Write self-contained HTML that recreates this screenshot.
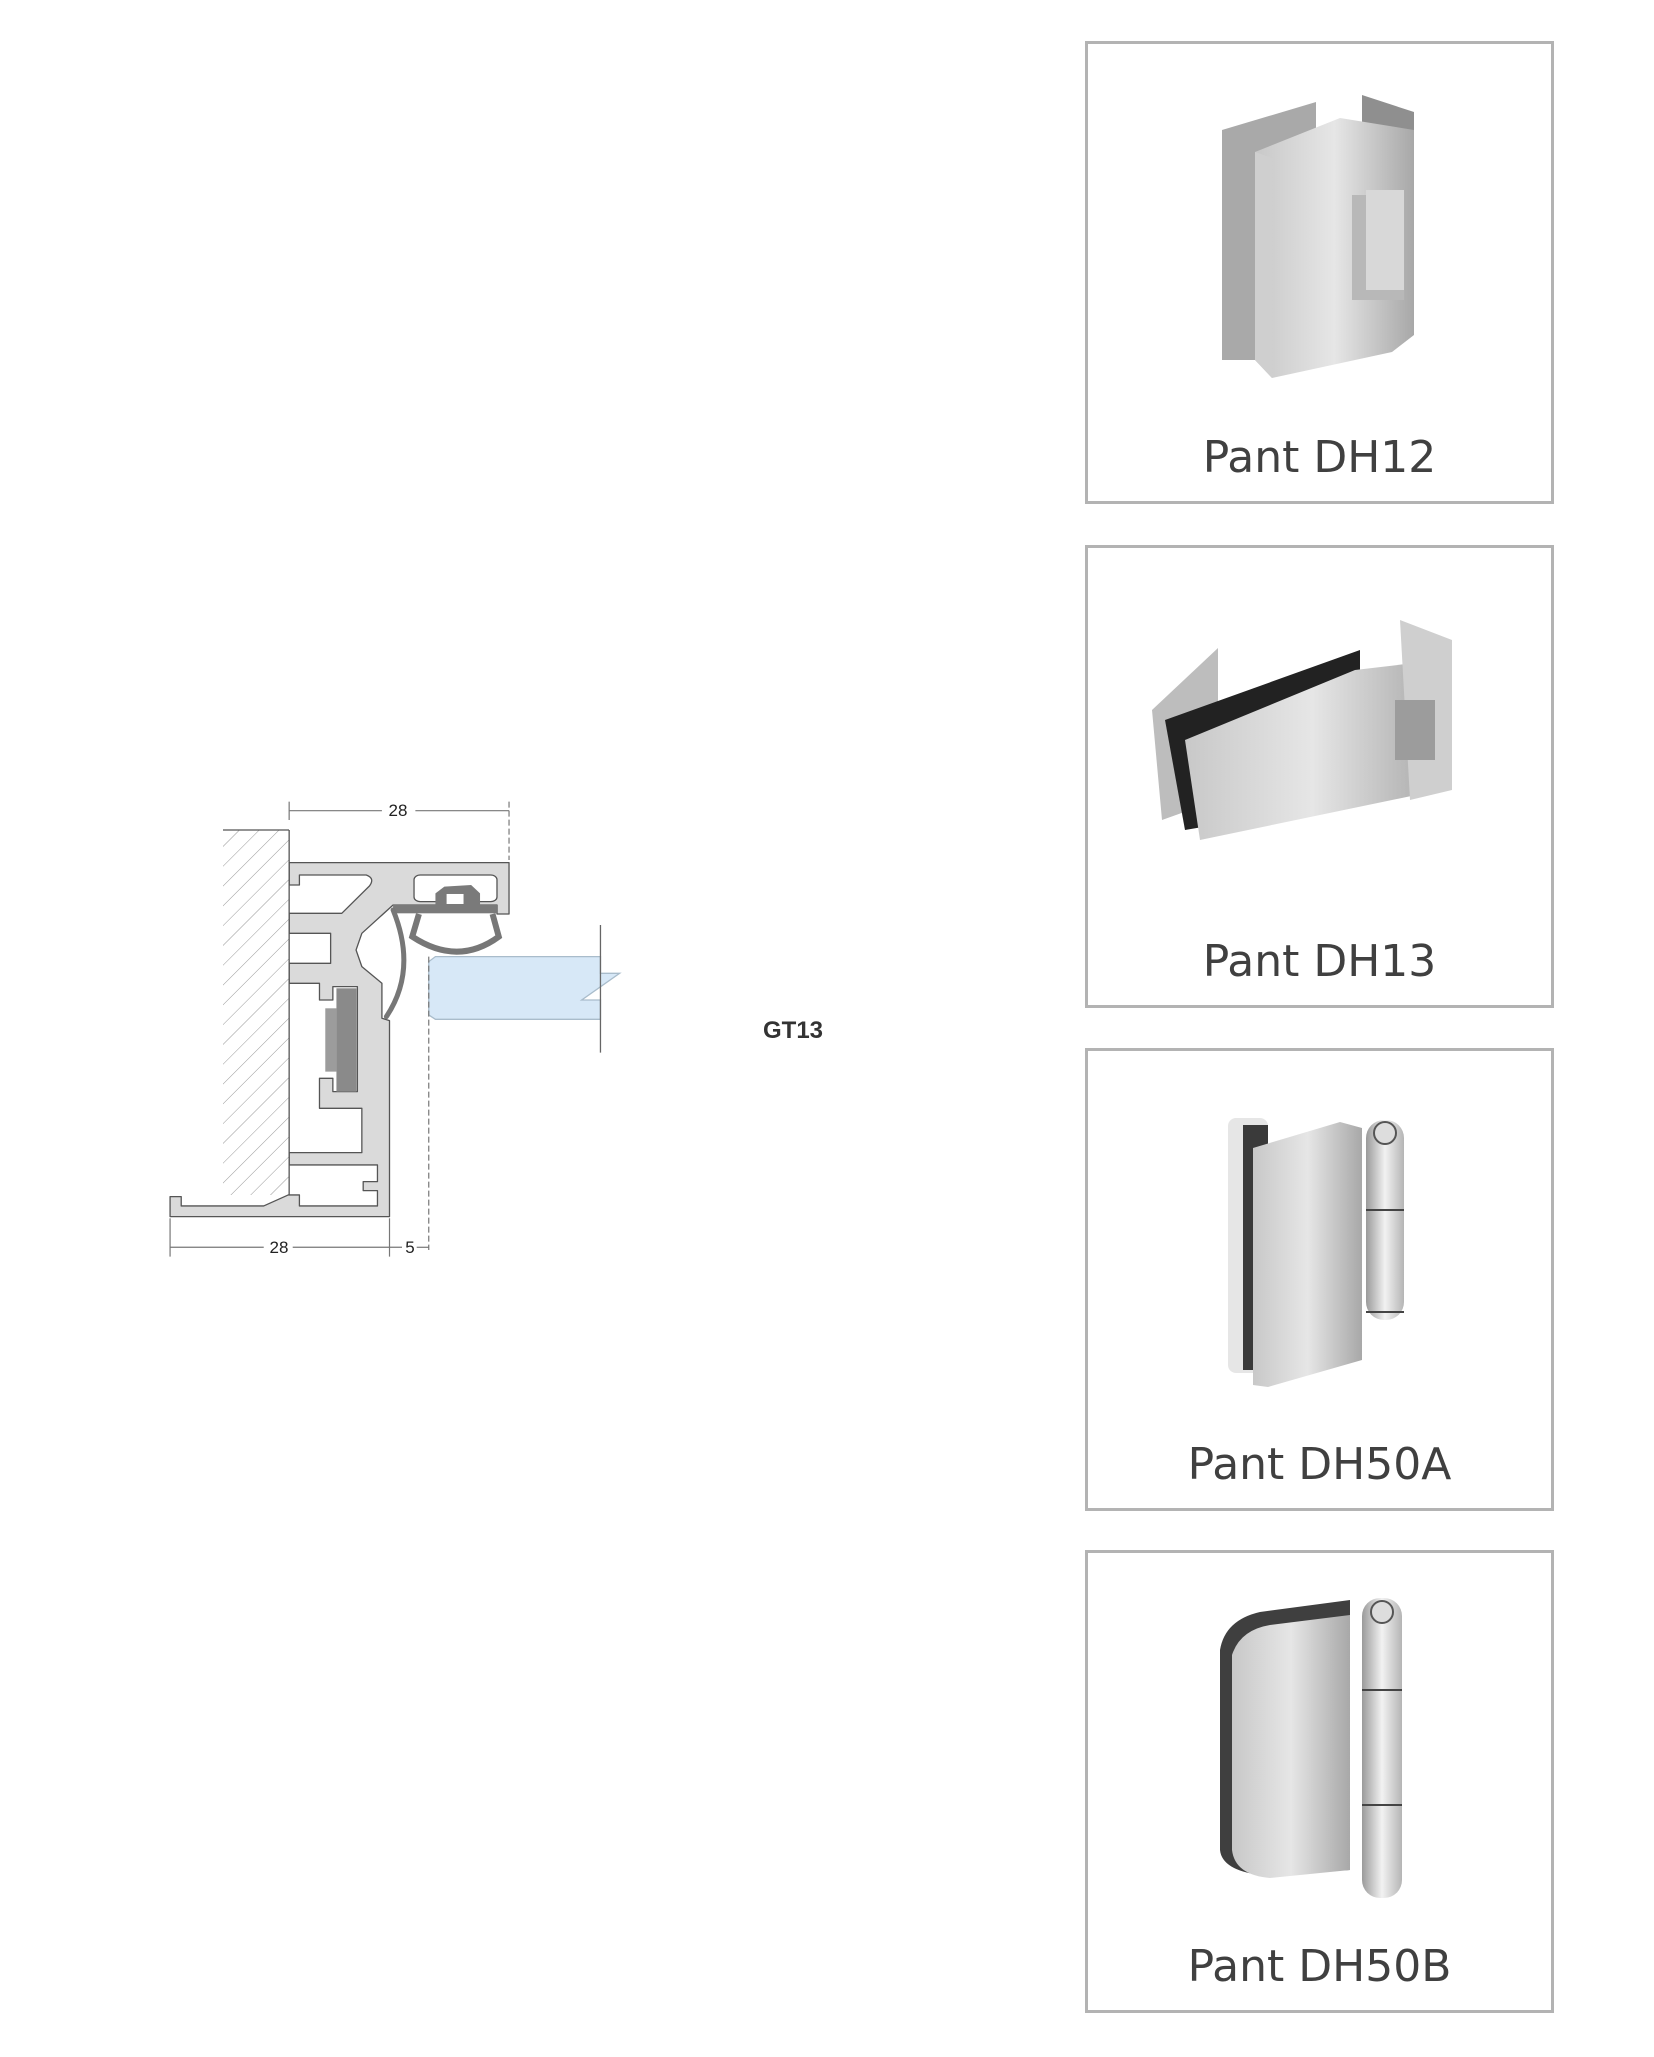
<!DOCTYPE html>
<html><head><meta charset="utf-8"><style>
html,body{margin:0;padding:0;background:#fff;}
body{width:1654px;height:2057px;position:relative;overflow:hidden;font-family:"Liberation Sans",sans-serif;}
.box{position:absolute;left:1085px;width:463px;height:457px;border:3px solid #b3b3b3;box-sizing:content-box;}
.lbl{position:absolute;left:0;width:100%;text-align:center;font-family:"DejaVu Sans","Liberation Sans",sans-serif;font-size:44px;color:#404040;}
svg{position:absolute;left:0;top:0;}
</style></head><body>
<div class="box" style="top:41px;"><div class="lbl" style="top:388px;">Pant DH12</div></div>
<div class="box" style="top:545px;"><div class="lbl" style="top:388px;">Pant DH13</div></div>
<div class="box" style="top:1048px;"><div class="lbl" style="top:388px;">Pant DH50A</div></div>
<div class="box" style="top:1550px;"><div class="lbl" style="top:388px;">Pant DH50B</div></div>

<svg width="1654" height="2057" viewBox="0 0 1654 2057">
<defs>
<pattern id="h" width="14" height="14" patternUnits="userSpaceOnUse" patternTransform="rotate(45)">
<line x1="0" y1="0" x2="0" y2="14" stroke="#999" stroke-width="1"/></pattern>
<linearGradient id="m" x1="0" x2="1"><stop offset="0" stop-color="#c8c8c8"/><stop offset="0.5" stop-color="#e6e6e6"/><stop offset="1" stop-color="#a8a8a8"/></linearGradient>
<linearGradient id="m2" x1="0" x2="1"><stop offset="0" stop-color="#9a9a9a"/><stop offset="0.5" stop-color="#f2f2f2"/><stop offset="1" stop-color="#b5b5b5"/></linearGradient>
</defs>

<rect x="223" y="830" width="66" height="365" fill="url(#h)"/>
<line x1="223" y1="830" x2="289" y2="830" stroke="#555" stroke-width="1.3"/>

<g transform="translate(150,770) scale(0.446,0.3333)">
<path d="M312,278 L805,278 L805,432 L778,432 L778,405 L545,405 L475,490 L462,540 L475,590 L520,640 L520,745 L537,752 L537,1340 L45,1340 L45,1280 L70,1280 L70,1308 L255,1308 L310,1275 L312,1275 Z" fill="#dadada" stroke="#555" stroke-width="1.3" vector-effect="non-scaling-stroke" stroke-linejoin="round"/>
<g fill="#fff" stroke="#555" stroke-width="1.3" stroke-linejoin="round">
<path vector-effect="non-scaling-stroke" d="M312,345 L335,345 L335,315 L485,315 Q505,325 492,348 L430,430 L312,430"/>
<path vector-effect="non-scaling-stroke" d="M312,490 L405,490 L405,580 L312,580"/>
<path vector-effect="non-scaling-stroke" d="M312,640 L380,640 L380,690 L410,690 L410,650 L465,650 L465,965 L410,965 L410,925 L380,925 L380,1015 L475,1015 L475,1148 L312,1148"/>
<path vector-effect="non-scaling-stroke" d="M312,1185 L510,1185 L510,1235 L478,1235 L478,1262 L510,1262 L510,1308 L335,1308 L335,1275 L312,1275"/>
<rect vector-effect="non-scaling-stroke" x="592" y="315" width="186" height="80" rx="14"/>
</g>
<line vector-effect="non-scaling-stroke" x1="312" y1="180" x2="312" y2="1275" stroke="#555" stroke-width="1.3"/>
<rect x="418" y="655" width="45" height="310" fill="#8a8a8a"/>
<rect x="393" y="715" width="25" height="190" fill="#9c9c9c"/>
<g fill="#7a7a7a">
<rect x="545" y="403" width="233" height="27"/>
<path d="M640,405 L640,370 L660,350 L720,345 L740,370 L740,405 Z"/>
</g>
<rect x="665" y="372" width="38" height="30" fill="#fff"/>
<path vector-effect="non-scaling-stroke" d="M545,420 Q600,600 530,740" fill="none" stroke="#777" stroke-width="5" stroke-linecap="round"/>
<path vector-effect="non-scaling-stroke" d="M603,432 L588,500 Q690,590 782,500 L768,432" fill="none" stroke="#777" stroke-width="6"/>
<path vector-effect="non-scaling-stroke" d="M640,560 L1010,560 L1010,610 L1053,610 L968,690 L1010,690 L1010,748 L640,748 L625,735 L625,575 Z" fill="#d7e8f7" stroke="#a9bccb" stroke-width="1.3"/>
<line vector-effect="non-scaling-stroke" x1="1010" y1="465" x2="1010" y2="848" stroke="#666" stroke-width="1.3"/>
<line vector-effect="non-scaling-stroke" x1="625" y1="560" x2="625" y2="1440" stroke="#777" stroke-width="1.2" stroke-dasharray="6,3"/>
<g stroke="#777" stroke-width="1.2">
<line vector-effect="non-scaling-stroke" x1="312" y1="122" x2="520" y2="122"/><line vector-effect="non-scaling-stroke" x1="595" y1="122" x2="805" y2="122"/>
<line vector-effect="non-scaling-stroke" x1="312" y1="95" x2="312" y2="150"/>
<line vector-effect="non-scaling-stroke" x1="805" y1="95" x2="805" y2="270" stroke-dasharray="6,3"/>
<line vector-effect="non-scaling-stroke" x1="45" y1="1432" x2="255" y2="1432"/><line vector-effect="non-scaling-stroke" x1="320" y1="1432" x2="565" y2="1432"/><line vector-effect="non-scaling-stroke" x1="598" y1="1432" x2="625" y2="1432"/>
<line vector-effect="non-scaling-stroke" x1="45" y1="1345" x2="45" y2="1460"/><line vector-effect="non-scaling-stroke" x1="537" y1="1345" x2="537" y2="1460"/>
</g>
</g>
<g font-family="Liberation Sans, sans-serif" font-size="17" fill="#222" text-anchor="middle">
<text x="398" y="816">28</text><text x="279" y="1253">28</text><text x="410" y="1253">5</text>
</g>
<text x="763" y="1038" font-family="Liberation Sans, sans-serif" font-weight="bold" font-size="24" fill="#333">GT13</text>

<!-- DH12 -->
<g>
<polygon points="1222,130 1316,102 1316,360 1222,360" fill="#a9a9a9"/>
<polygon points="1362,95 1414,112 1414,320 1362,330" fill="#8f8f8f"/>
<polygon points="1255,152 1340,118 1414,130 1414,335 1392,352 1272,378 1255,360" fill="url(#m)"/>
<polygon points="1255,152 1272,158 1272,378 1255,360" fill="#cfcfcf"/>
<rect x="1352" y="195" width="52" height="105" fill="#b8b8b8"/>
<rect x="1366" y="190" width="38" height="100" fill="#d8d8d8"/>
</g>
<!-- DH13 -->
<g>
<polygon points="1152,710 1218,648 1218,800 1162,820" fill="#bdbdbd"/>
<polygon points="1165,720 1360,650 1360,800 1185,830" fill="#222"/>
<polygon points="1185,740 1355,670 1440,660 1440,790 1200,840" fill="url(#m)"/>
<polygon points="1400,620 1452,640 1452,790 1410,800" fill="#cfcfcf"/>
<rect x="1395" y="700" width="40" height="60" fill="#9c9c9c"/>
</g>
<!-- DH50A -->
<g>
<rect x="1228" y="1118" width="40" height="255" rx="8" fill="#e6e6e6"/>
<rect x="1243" y="1125" width="25" height="245" fill="#3a3a3a"/>
<polygon points="1253,1148 1340,1122 1362,1128 1362,1360 1268,1387 1253,1385" fill="url(#m)"/>
<rect x="1366" y="1120" width="38" height="200" rx="18" fill="url(#m2)"/>
<line x1="1366" y1="1210" x2="1404" y2="1210" stroke="#444" stroke-width="2"/>
<line x1="1366" y1="1312" x2="1404" y2="1312" stroke="#444" stroke-width="2"/>
<circle cx="1385" cy="1133" r="11" fill="#ddd" stroke="#555" stroke-width="2"/>
</g>
<!-- DH50B -->
<g>
<path d="M1220,1650 Q1225,1620 1260,1612 L1350,1600 L1350,1870 L1260,1875 Q1222,1870 1220,1850 Z" fill="#3f3f3f"/>
<path d="M1232,1655 Q1240,1630 1270,1625 L1350,1615 L1350,1870 L1270,1878 Q1235,1875 1232,1850 Z" fill="url(#m)"/>
<rect x="1362" y="1598" width="40" height="300" rx="18" fill="url(#m2)"/>
<line x1="1362" y1="1690" x2="1402" y2="1690" stroke="#444" stroke-width="2"/>
<line x1="1362" y1="1805" x2="1402" y2="1805" stroke="#444" stroke-width="2"/>
<circle cx="1382" cy="1612" r="11" fill="#ddd" stroke="#555" stroke-width="2"/>
</g>
</svg>
</body></html>
